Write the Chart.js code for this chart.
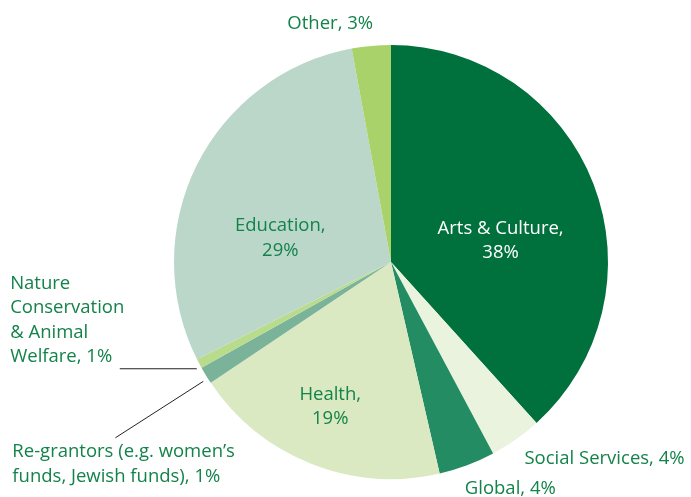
<!DOCTYPE html>
<html><head><meta charset="utf-8">
<script src="https://cdn.jsdelivr.net/npm/chart.js@4/dist/chart.umd.min.js"></script>
<style>html,body{margin:0;padding:0;background:#fff}#wrap{width:691px;height:497px}</style>
</head><body><div id="wrap"><canvas id="c" width="691" height="497"></canvas></div>
<script>
const categories = ["Arts & Culture","Social Services","Global","Health","Re-grantors (e.g. women’s funds, Jewish funds)","Nature Conservation & Animal Welfare","Education","Other"];
const values = [38.3, 3.9, 4.2, 19.2, 1.3, 0.7, 29.5, 2.9];
const labelText = [
  ["Arts & Culture,","38%"],
  ["Social Services, 4%"],
  ["Global, 4%"],
  ["Health,","19%"],
  ["Re-grantors (e.g. women’s","funds, Jewish funds), 1%"],
  ["Nature","Conservation","& Animal","Welfare, 1%"],
  ["Education,","29%"],
  ["Other, 3%"]
];
const colors = ["#00703C","#EAF3DE","#238C63","#DAE9C2","#7BB29A","#B9DB8C","#BBD7CA","#A9D26A"];
// label placement relative to pie centre in units of radius: [dx, dy, align]
const labelPos = [
  [0.505, -0.155, "center"],
  [0.615, 0.905, "left"],
  [0.34, 1.045, "left"],
  [-0.28, 0.61, "center"],
  [-1.745, 0.875, "left"],
  [-1.755, 0.1, "left"],
  [-0.51, -0.165, "center"],
  [-0.28, -1.10, "center"]
];
const leaders = { 4: [[-1.27, 0.81],[-0.865, 0.55]], 5: [[-1.25, 0.492],[-0.895, 0.492]] };
const textColor = "#13834A";

const labelPlugin = {
  id: "labels",
  afterDatasetsDraw(chart) {
    const ctx = chart.ctx;
    const meta = chart.getDatasetMeta(0);
    const a0 = meta.data[0];
    const cx = a0.x, cy = a0.y, R = a0.outerRadius;
    ctx.save();
    ctx.font = "18.5px 'Open Sans', sans-serif";
    ctx.textBaseline = "middle";
    labelText.forEach((lines, i) => {
      const p = labelPos[i];
      ctx.fillStyle = i === 0 ? "#FFFFFF" : textColor;
      ctx.textAlign = p[2];
      const lh = 24.5;
      const x = cx + p[0]*R;
      const y0 = cy + p[1]*R;
      lines.forEach((t, k) => ctx.fillText(t, x, y0 + k*lh));
    });
    ctx.strokeStyle = "#222";
    ctx.lineWidth = 1;
    Object.values(leaders).forEach(seg => {
      ctx.beginPath();
      ctx.moveTo(cx + seg[0][0]*R, cy + seg[0][1]*R);
      ctx.lineTo(cx + seg[1][0]*R, cy + seg[1][1]*R);
      ctx.stroke();
    });
    ctx.restore();
  }
};

new Chart(document.getElementById("c"), {
  type: "pie",
  data: { labels: categories, datasets: [{ data: values, backgroundColor: colors, borderWidth: 0 }] },
  options: {
    responsive: false, animation: false,
    layout: { padding: { top: 45, bottom: 18, left: 174, right: 83 } },
    plugins: { legend: { display: false }, tooltip: { enabled: false } }
  },
  plugins: [labelPlugin]
});
</script></body></html>
